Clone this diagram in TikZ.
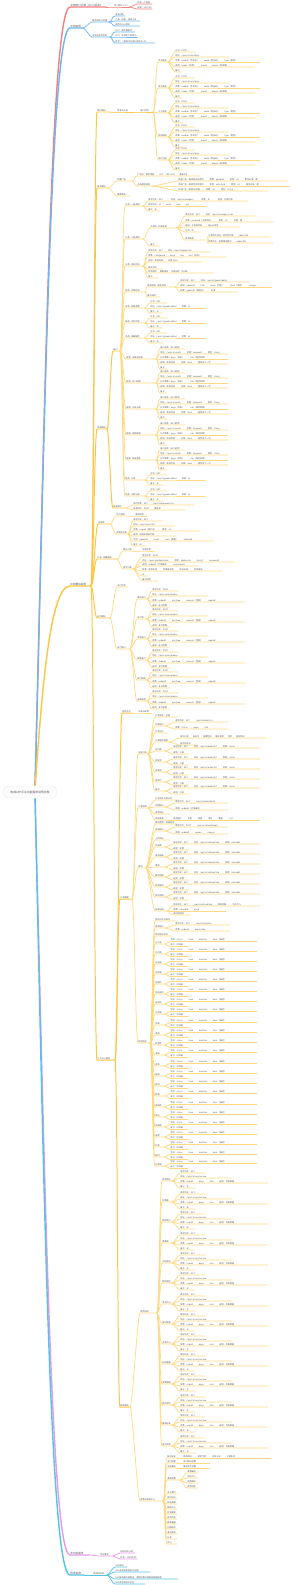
\documentclass[tikz,border=0pt]{standalone}
\usepackage{fontspec}
\setmainfont{Noto Sans CJK SC}

\definecolor{rdline}{HTML}{F47F7F}
\definecolor{blline}{HTML}{6DB6F1}
\definecolor{yeline}{HTML}{FFC540}
\definecolor{yeleaf}{HTML}{FFD980}
\definecolor{pkline}{HTML}{E79AE8}
\definecolor{cyline}{HTML}{53C3E8}
\definecolor{rootbg}{HTML}{FCFCFC}
\definecolor{txt}{HTML}{555555}

\tikzset{
  lbl/.style={anchor=south west, inner sep=0.35mm, text=txt, font=\fontsize{6}{7}\selectfont},
  big/.style={lbl, font=\fontsize{7.5}{9}\selectfont},
  rootbox/.style={rounded corners=5mm, fill=rootbg, draw=black!10, line width=0.8pt,
    minimum width=54mm, minimum height=12mm, text=txt, font=\fontsize{8}{10}\selectfont},
  lnk/.style={line cap=round},
  rb/.style={lnk, draw=rdline, line width=4pt},
  rl/.style={lnk, draw=rdline, line width=2pt},
  bb/.style={lnk, draw=blline, line width=4pt},
  bl/.style={lnk, draw=blline, line width=2pt},
  yb/.style={lnk, draw=yeline, line width=4pt},
  ym/.style={lnk, draw=yeline, line width=2.8pt},
  yl/.style={lnk, draw=yeleaf, line width=2pt},
  pb/.style={lnk, draw=pkline, line width=4pt},
  pl/.style={lnk, draw=pkline, line width=2pt},
  cb/.style={lnk, draw=cyline, line width=4pt},
  cl/.style={lnk, draw=cyline, line width=2pt},
}

% a topic: text sitting on its underline, tied to the end of the parent's underline
% #1 line style, #2 name, #3 parent, #4 x, #5 y, #6 underline length, #7 text
\newcommand\tp[7][yl]{%
  \node[lbl] (#2) at (#4,#5) {#7};
  \coordinate (#2-e) at ([xshift=#6mm]#2.south west);
  \draw[#1] (#3-e) .. controls ([xshift=2.5mm]#3-e) and ([xshift=-2.5mm]#2.south west) .. (#2.south west) -- (#2-e);
}

\begin{document}
\begin{tikzpicture}[x=1mm, y=-1mm]
  \useasboundingbox (0,0) rectangle (300,1585);

  % first level branches start behind the root box
  \coordinate (up) at (35,789);
  \coordinate (down) at (35,795);

  % red branch: revisions
  \node[big] (rec) at (70,7) {文档修订记录（V1.0 版本）};
  \coordinate (rec-e) at ([xshift=36mm]rec.south west);
  \draw[rb] (up) .. controls (45,400) and (51,7) .. (rec.south west) -- (rec-e);
  \tp[rl]{rec1}{rec}{114}{7}{16}{修订版本 V1.0}
  \tp[rl]{rec11}{rec1}{137}{4}{15}{作者：产品部}
  \tp[rl]{rec12}{rec1}{137}{9}{15}{日期：2023-05}

  % blue branch: about the document
  \node[big] (doc) at (70,28) {文档说明};
  \coordinate (doc-e) at ([xshift=13mm]doc.south west);
  \draw[bb] (up) .. controls (45,410) and (51,28) .. (doc.south west) -- (doc-e);
  \tp[bl]{doc1}{doc}{92}{22}{17}{编写目的与范围}
  \tp[bl]{doc11}{doc1}{115}{16}{10}{读者对象}
  \tp[bl]{doc12}{doc1}{115}{21}{25}{产品、研发、测试人员}
  \tp[bl]{doc13}{doc1}{115}{26}{25}{适用于V1.0版本}
  \tp[bl]{doc2}{doc}{92}{37}{18}{术语与参考资料}
  \tp[bl]{doc21}{doc2}{115}{32}{20}{SKU：库存量单位}
  \tp[bl]{doc22}{doc2}{115}{37}{22}{SPU：标准化产品单元}
  \tp[bl]{doc23}{doc2}{115}{43}{40}{参考：《电商平台接口规范 V2.0》}

  % yellow branch: modules
  \node[big] (mod) at (70,586) {功能模块说明};
  \coordinate (mod-e) at ([xshift=21mm]mod.south west);
  \draw[yb] (up) .. controls (42,690) and (50,586) .. (mod.south west) -- (mod-e);

  % users
  \tp[ym]{m1}{mod}{97}{112}{13}{用户模块}
  \tp[ym]{m1a}{m1}{117}{112}{17}{登录与注册}
  \tp[ym]{m1b}{m1a}{140}{112}{13}{接口列表}
  \foreach \k/\yy/\lab in {a/62/手机登录, b/88/账号登录, c/113/三方登录, d/137/找回密码, e/160/用户注册}{
    \tp{m1b\k}{m1b}{158}{\yy}{10}{\lab}
    \tp{m1b\k1}{m1b\k}{175}{\yy-10}{20}{方法：POST}
    \tp{m1b\k2}{m1b\k}{175}{\yy-5}{54}{地址：/api/v1/user/login}
    \tp{m1b\k3}{m1b\k}{175}{\yy}{85}{参数：mobile（手机号）\hspace{5mm}code（验证码）\hspace{5mm}type（类型）}
    \tp{m1b\k4}{m1b\k}{175}{\yy+5}{80}{返回：token（令牌）\hspace{5mm}userId\hspace{5mm}expire（有效期）}
    \tp{m1b\k5}{m1b\k}{175}{\yy+10}{7}{备注}
  }

  % home page
  \tp[ym]{m2}{mod}{97}{188}{11}{首页模块}
  \tp{m2a}{m2}{117}{181}{15}{轮播广告}
  \tp{m2a1}{m2a}{137}{176}{63}{广告位：首页顶部\hspace{5mm}尺寸：750×320\hspace{5mm}最多5张}
  \tp{m2a2}{m2a}{137}{186}{16}{点击跳转规则}
  \tp{m2a21}{m2a2}{178}{181}{110}{商品广告：跳转商品详情页\hspace{6mm}参数：goodsId\hspace{6mm}类型：int\hspace{6mm}是否必填：是}
  \tp{m2a22}{m2a2}{178}{186}{112}{活动广告：跳转活动专题页\hspace{6mm}参数：activityId\hspace{6mm}类型：int\hspace{6mm}是否必填：是}
  \tp{m2a23}{m2a2}{178}{191}{90}{外链广告：跳转H5页面\hspace{6mm}参数：url\hspace{6mm}类型：string}
  \tp{m2b}{m2}{117}{196}{13}{推荐商品}

  % goods
  \tp[ym]{m3}{mod}{97}{429}{10}{商品模块}
  \tp[ym]{m3a}{m3}{113}{351}{7}{接口}
  \tp{m3a-1}{m3a}{125}{206}{18}{分类 - 一级类目}
  \tp{m3a-1-1}{m3a-1}{148}{201}{100}{请求方式：GET\hspace{8mm}地址：/api/v1/category\hspace{8mm}参数：无\hspace{8mm}返回：分类列表}
  \tp{m3a-1-2}{m3a-1}{148}{206}{58}{返回字段：id\hspace{5mm}name\hspace{5mm}icon\hspace{5mm}sort}
  \tp{m3a-1-3}{m3a-1}{148}{211}{12}{备注：无}
  \tp{m3a-2}{m3a}{125}{239}{18}{分类 - 二级类目}
  \tp{m3a-2-1}{m3a-2}{150}{228}{27}{子类目 - 列表查询}
  \tp{m3a-2-1-1}{m3a-2-1}{185}{216}{70}{请求方式：GET\hspace{6mm}地址：/api/v1/category/sub}
  \tp{m3a-2-1-2}{m3a-2-1}{185}{222}{88}{参数：parentId（父类目ID）\hspace{6mm}类型：int\hspace{6mm}必填：是}
  \tp{m3a-2-1-3}{m3a-2-1}{185}{227}{55}{返回：子类目列表\hspace{6mm}按sort排序}
  \tp{m3a-2-1-4}{m3a-2-1}{185}{232}{15}{分页：否}
  \tp{m3a-2-1-5}{m3a-2-1}{185}{240}{23}{异常处理}
  \tp{m3a-2-1-5-1}{m3a-2-1-5}{208}{237}{63}{父类目不存在：返回空列表\hspace{5mm}code=200}
  \tp{m3a-2-1-5-2}{m3a-2-1-5}{208}{243}{65}{参数为空：返回错误提示\hspace{5mm}code=400}
  \tp{m3a-2-2}{m3a-2}{150}{246}{10}{备注}
  \tp{m3a-3}{m3a}{125}{266}{18}{分类 - 商品列表}
  \tp{m3a-3-1}{m3a-3}{148}{252}{63}{请求方式：GET\hspace{5mm}地址：/api/v1/goods/list}
  \tp{m3a-3-2}{m3a-3}{148}{257}{78}{参数：categoryId\hspace{5mm}page\hspace{5mm}size\hspace{5mm}sort（排序）}
  \tp{m3a-3-3}{m3a-3}{148}{262}{55}{返回：商品列表\hspace{5mm}总数 total}
  \tp{m3a-3-4}{m3a-3}{148}{269}{15}{排序方式}
  \tp{m3a-3-5}{m3a-3}{148}{273}{65}{综合排序\hspace{3mm}销量排序\hspace{3mm}价格排序（升/降）}
  \tp{m3a-3-6}{m3a-3}{148}{278}{10}{备注}
  \tp{m3a-4}{m3a}{125}{292}{20}{商品 - 详情信息}
  \tp{m3a-4-1}{m3a-4}{147}{287}{28}{商品详情 - 基本信息}
  \tp{m3a-4-1-1}{m3a-4-1}{180}{282}{70}{请求方式：GET\hspace{6mm}地址：/api/v1/goods/detail}
  \tp{m3a-4-1-2}{m3a-4-1}{180}{287}{92}{返回：goodsId\hspace{6mm}title\hspace{6mm}price（价格）\hspace{6mm}stock（库存）\hspace{6mm}images}
  \tp{m3a-4-1-3}{m3a-4-1}{180}{292}{58}{参数：goodsId（商品ID）\hspace{6mm}必填}
  \tp{m3a-4-2}{m3a-4}{147}{297}{13}{备注说明}
  \foreach \k/\yy/\lab in {5/308/商品 - 规格参数, 6/323/商品 - 评价列表, 7/338/商品 - 收藏操作, 13/480/商品 - 分享, 14/496/商品 - 浏览记录}{
    \tp{m3a-\k}{m3a}{125}{\yy}{20}{\lab}
    \tp{m3a-\k-1}{m3a-\k}{150}{\yy-5}{17}{方式：GET}
    \tp{m3a-\k-2}{m3a-\k}{150}{\yy}{55}{地址：/api/v1/goods/detail\hspace{5mm}参数：id}
    \tp{m3a-\k-3}{m3a-\k}{150}{\yy+5}{13}{备注：无}
  }
  \foreach \k/\yy/\lab in {8/359/搜索 - 关键词搜索, 9/383/搜索 - 热门搜索, 10/409/搜索 - 历史记录, 11/435/搜索 - 搜索联想, 12/460/搜索 - 筛选条件}{
    \tp{m3a-\k}{m3a}{126}{\yy}{30}{\lab}
    \tp{m3a-\k-1}{m3a-\k}{160}{\yy-10}{25}{接口名称（GET请求）}
    \tp{m3a-\k-2}{m3a-\k}{160}{\yy-5}{68}{地址：/api/v1/search\hspace{6mm}参数：keyword\hspace{6mm}类型：string}
    \tp{m3a-\k-3}{m3a-\k}{160}{\yy}{68}{分页参数：page（页码）\hspace{6mm}size（每页条数）}
    \tp{m3a-\k-4}{m3a-\k}{160}{\yy+5}{68}{返回：商品列表\hspace{6mm}总数：total\hspace{6mm}是否有下一页}
    \tp{m3a-\k-5}{m3a-\k}{160}{\yy+10}{7}{备注}
  }
  \tp[ym]{m3b}{m3}{113}{508}{13}{商品评价}
  \tp{m3b-1}{m3b}{133}{505}{62}{评价列表：GET\hspace{5mm}/api/v1/comment/list}
  \tp{m3b-2}{m3b}{133}{510}{52}{发表评价：POST\hspace{5mm}需登录}

  % cart
  \tp[ym]{m4}{mod}{98}{524}{12}{购物车}
  \tp{m4a}{m4}{116}{516}{12}{加入购物}
  \tp{m4a1}{m4a}{135}{516}{12}{库存校验}
  \tp{m4b}{m4}{116}{534}{12}{购物车列表}
  \tp{m4b1}{m4b}{133}{521}{30}{请求方式：GET}
  \tp{m4b2}{m4b}{133}{526}{42}{地址：/api/v1/cart/list}
  \tp{m4b3}{m4b}{133}{531}{67}{参数：userId（用户ID）\hspace{6mm}类型：int}
  \tp{m4b4}{m4b}{133}{536}{44}{返回：购物车商品列表}
  \tp{m4b5}{m4b}{133}{541}{80}{字段：goodsId\hspace{6mm}skuId\hspace{6mm}num（数量）\hspace{6mm}checked}
  \tp{m4b6}{m4b}{133}{546}{14}{备注：无}

  % orders
  \tp[ym]{m5}{mod}{97}{559}{20}{订单 - 结算模块}
  \tp{m5a}{m5}{123}{551}{10}{确认订单}
  \tp{m5a1}{m5a}{142}{551}{12}{价格计算}
  \tp{m5b}{m5}{123}{569}{10}{提交订单}
  \tp{m5b1}{m5b}{142}{557}{31}{请求方式：POST}
  \tp{m5b2}{m5b}{142}{562}{93}{地址：/api/v1/order/create\hspace{6mm}参数：addressId\hspace{6mm}skuList\hspace{6mm}couponId}
  \tp{m5b3}{m5b}{142}{566}{56}{返回：orderId（订单编号）\hspace{5mm}payAmount}
  \tp{m5b4}{m5b}{142}{571}{80}{异常：库存不足\hspace{6mm}优惠券失效\hspace{6mm}地址无效\hspace{6mm}价格变动}
  \tp{m5b5}{m5b}{142}{576}{6}{无}
  \tp{m5b6}{m5b}{142}{581}{16}{备注说明}

  % payment
  \tp[ym]{m6}{mod}{97}{618}{13}{支付模块}
  \tp{m6a}{m6}{117}{587}{11}{支付方式}
  \tp{m6b}{m6}{117}{649}{13}{支付接口}
  \foreach \k/\yy/\lab in {1/599/微信支付, 2/619/支付宝, 3/639/余额支付, 4/660/银联支付, 5/680/支付回调, 6/701/退款申请}{
    \tp{m6b-\k}{m6b}{137}{\yy}{10}{\lab}
    \tp{m6b-\k-1}{m6b-\k}{152}{\yy-8}{26}{请求方式：POST}
    \tp{m6b-\k-2}{m6b-\k}{152}{\yy-3}{56}{地址：/api/v1/pay/prepay}
    \tp{m6b-\k-3}{m6b-\k}{152}{\yy+3}{93}{参数：orderId\hspace{6mm}payType\hspace{6mm}amount（金额）\hspace{6mm}openId}
    \tp{m6b-\k-4}{m6b-\k}{152}{\yy+8}{18}{返回：支付参数}
  }

  % personal center
  \tp[ym]{m7}{mod}{97}{1060}{18}{个人中心模块}
  \tp[ym]{m7a}{m7}{122}{713}{10}{我的主页}
  \tp{m7a1}{m7a}{138}{713}{14}{头像与昵称}
  \tp[ym]{m7b}{m7}{120}{899}{12}{订单管理}
  % all orders
  \tp{m7b1}{m7b}{138}{754}{10}{全部订单}
  \tp{m7b1-1}{m7b1}{155}{717}{23}{订单状态：全部}
  \tp{m7b1-2}{m7b1}{155}{726}{10}{列表接口}
  \tp{m7b1-21}{m7b1-2}{175}{722}{53}{请求方式：GET\hspace{6mm}/api/v1/order/list}
  \tp{m7b1-22}{m7b1-2}{175}{729}{53}{参数：status\hspace{6mm}page\hspace{6mm}size}
  \tp{m7b1-3}{m7b1}{155}{733}{13}{订单卡片}
  \tp{m7b1-4}{m7b1}{155}{742}{14}{订单操作按钮}
  \tp{m7b1-41}{m7b1-4}{180}{738}{87}{取消订单\hspace{4mm}去支付\hspace{4mm}查看物流\hspace{4mm}确认收货\hspace{4mm}评价\hspace{4mm}再次购买}
  \tp{m7b1-42}{m7b1-4}{180}{745}{17}{按状态显示}
  \foreach \k/\yy/\lab in {5/751/待付款, 6/762/待发货, 7/772/待收货, 8/782/待评价, 9/791/售后}{
    \tp{m7b1-\k}{m7b1}{155}{\yy}{10}{\lab}
    \tp{m7b1-\k1}{m7b1-\k}{173}{\yy-3}{87}{请求方式：GET\hspace{6mm}地址：/api/v1/order/list\hspace{6mm}参数：status}
    \tp{m7b1-\k2}{m7b1-\k}{173}{\yy+3}{15}{返回：订单}
  }
  % order detail
  \tp{m7b2}{m7b}{138}{808}{10}{订单详情}
  \tp{m7b2-1}{m7b2}{155}{800}{23}{订单状态与倒计时}
  \tp{m7b2-2}{m7b2}{155}{807}{10}{详情接口}
  \tp{m7b2-21}{m7b2-2}{175}{803}{53}{请求方式：GET\hspace{6mm}/api/v1/order/detail}
  \tp{m7b2-22}{m7b2-2}{175}{810}{53}{参数：orderId（订单编号）}
  \tp{m7b2-3}{m7b2}{155}{814}{15}{收货地址}
  \tp{m7b2-4}{m7b2}{155}{820}{12}{商品清单}
  \tp{m7b2-41}{m7b2-4}{173}{820}{87}{商品图片\hspace{6mm}名称\hspace{6mm}规格\hspace{6mm}单价\hspace{6mm}数量\hspace{6mm}小计}
  % after-sales
  \tp{m7b3}{m7b}{138}{868}{8}{售后}
  \tp{m7b3-1}{m7b3}{155}{824}{23}{售后类型：退款退货}
  \tp{m7b3-2}{m7b3}{155}{831}{10}{申请接口}
  \tp{m7b3-21}{m7b3-2}{175}{827}{53}{请求方式：POST\hspace{6mm}/api/v1/refund/apply}
  \tp{m7b3-22}{m7b3-2}{175}{834}{53}{参数：orderId\hspace{6mm}reason\hspace{6mm}images}
  \tp{m7b3-3}{m7b3}{155}{840}{15}{上传凭证}
  \foreach \k/\yy/\lab in {4/847/仅退款, 5/857/退货退款, 6/867/换货, 7/877/售后进度, 8/887/取消售后, 9/897/售后详情}{
    \tp{m7b3-\k}{m7b3}{155}{\yy}{10}{\lab}
    \tp{m7b3-\k1}{m7b3-\k}{173}{\yy-3}{87}{请求方式：GET\hspace{6mm}地址：/api/v1/refund/info\hspace{6mm}参数：refundId}
    \tp{m7b3-\k2}{m7b3-\k}{173}{\yy+3}{15}{返回：详情}
  }
  \tp{m7b3-10}{m7b3}{155}{911}{12}{协商记录}
  \tp{m7b3-101}{m7b3-10}{173}{906}{87}{请求方式：GET\hspace{6mm}/api/v1/refund/log\hspace{6mm}商家回复\hspace{6mm}平台介入}
  \tp{m7b3-102}{m7b3-10}{173}{911}{53}{参数：refundId\hspace{6mm}page}
  \tp{m7b3-103}{m7b3-10}{173}{915}{17}{按时间倒序}
  % logistics
  \tp{m7b4}{m7b}{138}{1043}{12}{物流信息}
  \tp{m7b4-1}{m7b4}{155}{921}{23}{物流公司与单号}
  \tp{m7b4-2}{m7b4}{155}{928}{10}{查询接口}
  \tp{m7b4-21}{m7b4-2}{175}{925}{55}{请求方式：GET\hspace{6mm}/api/v1/logistics}
  \tp{m7b4-22}{m7b4-2}{175}{931}{55}{参数：orderId\hspace{6mm}expressNo}
  \tp{m7b4-3}{m7b4}{155}{936}{17}{物流轨迹节点}
  \foreach \k/\yy/\lab in {4/944/已下单, 5/954/已付款, 6/964/已出库, 7/974/已揽收, 8/984/运输中, 9/994/到达网点, 10/1004/派送中, 11/1014/已签收, 12/1025/拒收, 13/1035/退回, 14/1045/异常件, 15/1055/滞留, 16/1066/丢失, 17/1076/破损, 18/1086/改派, 19/1096/转寄, 20/1107/待取件, 21/1117/驿站, 22/1127/快递柜, 23/1137/自提, 24/1147/代收, 25/1157/超时, 26/1166/已完成}{
    \tp{m7b4-\k}{m7b4}{155}{\yy}{10}{\lab}
    \tp{m7b4-\k a}{m7b4-\k}{170}{\yy-2.5}{87}{字段：status\hspace{6mm}time\hspace{6mm}location\hspace{6mm}desc（描述）}
    \tp{m7b4-\k b}{m7b4-\k}{170}{\yy+2.5}{18}{显示：时间轴}
  }
  % services
  \tp[ym]{m7c}{m7}{120}{1407}{10}{我的服务}
  \tp{m7c1}{m7c}{140}{1313}{17}{常用功能}
  \foreach \k/\yy/\lab in {1/1181/收货地址, 2/1202/优惠券, 3/1222/我的积分, 4/1243/收藏夹, 5/1263/浏览足迹, 6/1283/我的钱包, 7/1304/会员中心, 8/1324/每日签到, 9/1344/消息中心, 10/1364/在线客服, 11/1384/发票管理, 12/1405/我的评价, 13/1425/邀请好友, 14/1446/意见反馈}{
    \tp{m7c1-\k}{m7c1}{162}{\yy}{10}{\lab}
    \tp{m7c1-\k-1}{m7c1-\k}{180}{\yy-8}{25}{请求方式：GET}
    \tp{m7c1-\k-2}{m7c1-\k}{180}{\yy-3}{52}{地址：/api/v1/user/service}
    \tp{m7c1-\k-3}{m7c1-\k}{180}{\yy+2}{88}{参数：userId\hspace{6mm}page\hspace{6mm}size\hspace{6mm}返回：列表数据}
    \tp{m7c1-\k-4}{m7c1-\k}{180}{\yy+7}{15}{备注：无}
  }
  \tp{m7c2}{m7c}{140}{1501}{23}{设置与帮助中心}
  \tp{m7c2-1}{m7c2}{167}{1458}{10}{账号安全}
  \tp{m7c2-11}{m7c2-1}{183}{1458}{88}{修改密码\hspace{6mm}绑定手机\hspace{6mm}实名认证\hspace{6mm}注销账号}
  \tp{m7c2-2}{m7c2}{167}{1463}{10}{支付设置}
  \tp{m7c2-21}{m7c2-2}{183}{1463}{27}{支付密码设置}
  \tp{m7c2-3}{m7c2}{167}{1468}{10}{消息通知}
  \tp{m7c2-31}{m7c2-3}{183}{1468}{27}{推送开关设置}
  \tp{m7c2-4}{m7c2}{167}{1480}{13}{通用设置}
  \tp{m7c2-41}{m7c2-4}{187}{1473}{11}{清除缓存}
  \tp{m7c2-42}{m7c2-4}{187}{1478}{11}{字体大小}
  \tp{m7c2-43}{m7c2-4}{187}{1483}{11}{深色模式}
  \tp{m7c2-44}{m7c2-4}{187}{1488}{11}{语言切换}
  \foreach \k/\yy/\lab in {5/1494/关于我们, 6/1499/用户协议, 7/1504/隐私政策, 8/1509/帮助中心, 9/1514/检查更新, 10/1519/版本信息, 11/1524/联系客服, 12/1529/切换账号, 13/1534/退出登录, 14/1539/分享, 15/1544/评分}{
    \tp{m7c2-\k}{m7c2}{167}{\yy}{10}{\lab}
  }

  % pink branch: non-functional
  \node[big] (nfr) at (70,1555) {非功能需求};
  \coordinate (nfr-e) at ([xshift=19mm]nfr.south west);
  \draw[pb] (down) .. controls (45,1176) and (51,1555) .. (nfr.south west) -- (nfr-e);
  \tp[pl]{nfr1}{nfr}{100}{1556}{13}{性能要求}
  \tp[pl]{nfr11}{nfr1}{120}{1553}{15}{响应时间<2秒}
  \tp[pl]{nfr12}{nfr1}{120}{1559}{17}{并发：1000次/秒}

  % cyan branch: appendix
  \node[big] (app) at (70,1575) {附录说明};
  \coordinate (app-e) at ([xshift=14mm]app.south west);
  \draw[cb] (down) .. controls (44,1186) and (50,1575) .. (app.south west) -- (app-e);
  \tp[cl]{app1}{app}{93}{1575}{14}{错误码说明}
  \tp[cl]{app11}{app1}{115}{1567}{12}{200 成功}
  \tp[cl]{app12}{app1}{115}{1572}{35}{401 未登录或登录已过期}
  \tp[cl]{app13}{app1}{115}{1579}{63}{500 服务器内部错误，请稍后重试或联系客服处理}
  \tp[cl]{app14}{app1}{115}{1584}{30}{404 请求资源不存在}

  % root on top of the branch ends
  \node[rootbox] (root) at (30,792) {电商APP平台功能需求说明文档};
\end{tikzpicture}
\end{document}
